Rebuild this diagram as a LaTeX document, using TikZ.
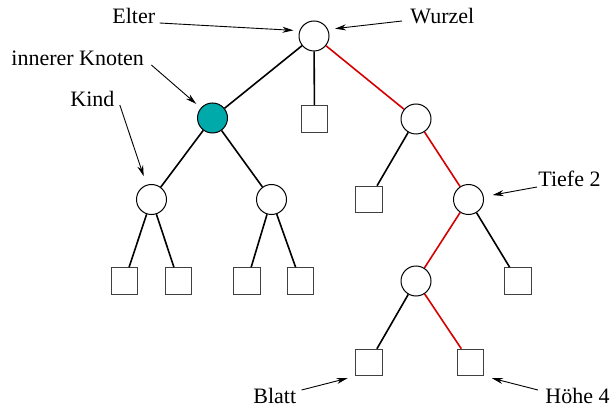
\documentclass[tikz,border=0pt]{standalone}
\usepackage{fontspec}
\setmainfont{Liberation Serif}
\usetikzlibrary{arrows.meta}
\definecolor{tealfill}{RGB}{0,170,170}
\definecolor{redline}{RGB}{215,0,0}
\begin{document}
\begin{tikzpicture}[x=0.5pt,y=-0.5pt,
  knot/.style={circle,draw=black,line width=0.5pt,fill=white,minimum size=15pt,inner sep=0pt},
  leaf/.style={rectangle,draw=black!75,line width=0.5pt,fill=white,minimum size=13.25pt,inner sep=0pt},
  edge/.style={line width=0.8pt,black},
  redge/.style={line width=0.8pt,redline},
  lbl/.style={anchor=base west,inner sep=0pt,font=\fontsize{11pt}{13pt}\selectfont},
  arr/.style={line width=0.45pt,-{Stealth[length=5.5pt,width=3pt]}}]
\useasboundingbox (0,0) rectangle (613,405);
% nodes
\node[knot] (root) at (314,36) {};
\node[knot,fill=tealfill] (in) at (212.5,118) {};
\node[leaf] (s1) at (314.5,119) {};
\node[knot] (r1) at (416,119) {};
\node[knot] (ll) at (151.5,199.5) {};
\node[knot] (lr) at (271.5,199.5) {};
\node[leaf] (s2) at (369,199.5) {};
\node[knot] (t2) at (468.5,199.5) {};
\node[leaf] (b1) at (124.5,281) {};
\node[leaf] (b2) at (178.5,281) {};
\node[leaf] (b3) at (247,281) {};
\node[leaf] (b4) at (300.5,281) {};
\node[knot] (c4) at (416,281) {};
\node[leaf] (s3) at (518,281) {};
\node[leaf] (bl) at (369,362.5) {};
\node[leaf] (hh) at (470.5,362.5) {};
% edges
\draw[edge] (root) -- (in);
\draw[edge] (root) -- (s1);
\draw[redge] (root) -- (r1);
\draw[edge] (in) -- (ll);
\draw[edge] (in) -- (lr);
\draw[edge] (r1) -- (s2);
\draw[redge] (r1) -- (t2);
\draw[edge] (ll) -- (b1);
\draw[edge] (ll) -- (b2);
\draw[edge] (lr) -- (b3);
\draw[edge] (lr) -- (b4);
\draw[redge] (t2) -- (c4);
\draw[edge] (t2) -- (s3);
\draw[edge] (c4) -- (bl);
\draw[redge] (c4) -- (hh);
% labels
\node[lbl] (elter) at (112,24) {Elter};
\node[lbl] (wurzel) at (410,24) {Wurzel};
\node[lbl] (ik) at (11,66) {innerer Knoten};
\node[lbl] (kind) at (70,107) {Kind};
\node[lbl] (tiefe) at (538,187) {Tiefe 2};
\node[lbl] (blatt) at (253,403) {Blatt};
\node[lbl] (hoehe) at (545,403) {Höhe 4};
% arrows
\draw[arr,shorten >=3pt] ([shift={(4,-1)}]elter.base east) -- (root.160);
\draw[arr,shorten >=3.5pt] ([shift={(-8,-3)}]wurzel.base west) -- (root.25);
\draw[arr,shorten >=3pt] ([shift={(7,-1)}]ik.base east) -- (in);
\draw[arr,shorten >=4.5pt] ([shift={(5,-2)}]kind.base east) -- (ll);
\draw[arr,shorten >=4.5pt] ([shift={(-1,0)}]tiefe.base west) -- (t2);
\draw[arr,shorten >=4pt] ([shift={(5,-13)}]blatt.base east) -- (bl.south west);
\draw[arr,shorten >=4pt] ([shift={(-7,-13)}]hoehe.base west) -- (hh.south east);
\end{tikzpicture}
\end{document}
